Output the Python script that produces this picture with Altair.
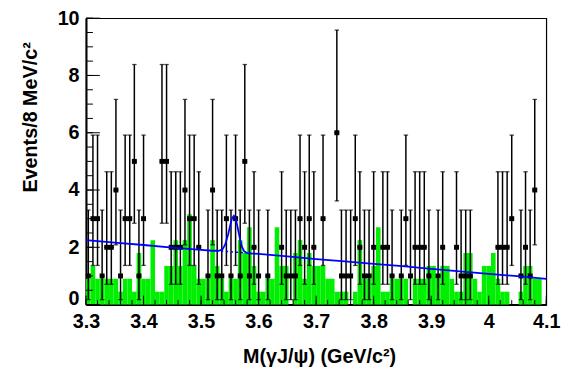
import altair as alt
import pandas as pd

X_MIN, X_MAX = 3.3, 4.1
BIN_W = 0.008

# observed events per 8 MeV bin (100 bins from 3.3 to 4.1)
counts = [1, 3, 3, 1, 2, 2, 4, 1, 3, 3,
          5, 1, 3, 0, 0, 0, 5, 5, 2, 2,
          2, 4, 3, 3, 2, 0, 1, 4, 1, 1,
          3, 1, 3, 1, 5, 1, 2, 1, 0, 1,
          0, 0, 2, 1, 1, 1, 3, 2, 3, 2,
          0, 3, 0, 0, 6, 1, 1, 1, 3, 2,
          1, 1, 2, 0, 2, 2, 1, 0, 1, 3,
          1, 2, 2, 2, 1, 0, 1, 2, 0, 0,
          2, 1, 1, 1, 0, 0, 0, 0, 0, 2,
          2, 2, 3, 0, 1, 2, 1, 4, 0, 0]

# green (sideband / background) histogram
green = [0.9, 1.35, 0.9, 0.9, 0.9, 0.9, 0.9, 0.45, 0.9, 0.9,
         0.45, 1.8, 0.9, 0.9, 2.25, 0.45, 0.45, 1.35, 1.35, 2.25,
         1.35, 2.25, 3.15, 1.35, 0.9, 0.9, 0.9, 2.25, 1.35, 0.9,
         0.45, 0.9, 0.9, 2.25, 1.8, 2.7, 1.35, 0.45, 0.45, 0.9,
         0.9, 2.7, 1.35, 1.35, 0.0, 1.8, 2.25, 0.9, 1.8, 1.35,
         1.35, 1.35, 0.9, 0.9, 0.45, 0.45, 0.45, 0.0, 0.45, 2.25,
         0.9, 0.9, 1.35, 2.7, 0.45, 0.45, 0.9, 0.9, 0.9, 0.9,
         0.0, 0.9, 0.9, 0.9, 1.35, 1.35, 0.9, 1.35, 1.35, 0.9,
         0.45, 0.45, 1.8, 1.8, 0.9, 0.45, 1.35, 1.35, 1.8, 0.9,
         0.45, 0.45, 0.0, 0.0, 0.45, 1.35, 1.35, 0.9, 0.9, 0.0]

# 68% CL Poisson (Garwood) intervals for the counts that occur
poisson_lo = {1: 0.173, 2: 0.708, 3: 1.367, 4: 2.086, 5: 2.840, 6: 3.620}
poisson_hi = {1: 3.300, 2: 4.638, 3: 5.918, 4: 7.163, 5: 8.382, 6: 9.584}

# fitted curve (signal + background)
fit_x = [3.30, 3.35, 3.40, 3.45, 3.50, 3.52, 3.53, 3.537, 3.542, 3.547, 3.551,
         3.554, 3.557, 3.560, 3.563, 3.567, 3.571, 3.575, 3.58, 3.59, 3.60,
         3.65, 3.70, 3.75, 3.80, 3.85, 3.90, 3.95, 4.00, 4.05, 4.10]
fit_y = [2.25, 2.16, 2.08, 1.99, 1.91, 1.88, 1.88, 1.92, 2.10, 2.45, 2.80,
         3.02, 3.10, 3.02, 2.75, 2.35, 2.02, 1.86, 1.80, 1.78, 1.77,
         1.68, 1.59, 1.51, 1.42, 1.34, 1.25, 1.16, 1.07, 0.99, 0.90]

# background-only continuation under the peak (dotted)
bkg_x = [3.535, 3.58]
bkg_y = [1.87, 1.80]

x_major = [3.3, 3.4, 3.5, 3.6, 3.7, 3.8, 3.9, 4.0, 4.1]
y_major = [0, 2, 4, 6, 8, 10]

W, H = 466, 290

rows = []
for i, (n, g) in enumerate(zip(counts, green)):
    lo = X_MIN + i * BIN_W
    rows.append({"lo": lo, "hi": lo + BIN_W, "mid": lo + BIN_W / 2, "n": n, "g": g,
                 "elo": poisson_lo.get(n, 0.0), "ehi": poisson_hi.get(n, 0.0)})
df = pd.DataFrame(rows)
pts = df[df["n"] > 0]

xs = alt.Scale(domain=[X_MIN, X_MAX], nice=False, zero=False)
ys = alt.Scale(domain=[0, 10], nice=False)

xax = alt.Axis(values=x_major, format=".1~f", ticks=False, grid=False, labelFlush=False,
               title="M(γJ/ψ) (GeV/c²)", labelPadding=7, titleY=59,
               titleBaseline="alphabetic", titleX=236)
yax = alt.Axis(values=y_major, ticks=False, grid=False, title="Events/8 MeV/c²",
               labelPadding=7, labelFlush=False,
               labelBaseline={"condition": {"test": "datum.value == 0", "value": "alphabetic"},
                              "value": "middle"},
               titleX=-56, titleY=100, titleAlign="center", titleBaseline="middle")

base = alt.Chart(df)

bars = base.mark_rect(color="#00ee00").encode(
    x=alt.X("lo:Q", scale=xs, axis=xax), x2="hi:Q",
    y=alt.Y("g:Q", scale=ys, axis=yax), y2=alt.datum(0))

pbase = alt.Chart(pts)
err = pbase.mark_rule(color="black", strokeWidth=1.5).encode(
    x=alt.X("mid:Q", scale=xs), y=alt.Y("elo:Q", scale=ys), y2="ehi:Q")
hbar = pbase.mark_rule(color="black", strokeWidth=1.5).encode(
    x=alt.X("lo:Q", scale=xs), x2="hi:Q", y=alt.Y("n:Q", scale=ys))
cap_hi = pbase.mark_tick(color="black", orient="horizontal", size=4.5, thickness=1.3).encode(
    x=alt.X("mid:Q", scale=xs), y=alt.Y("ehi:Q", scale=ys))
cap_lo = pbase.mark_tick(color="black", orient="horizontal", size=4.5, thickness=1.3).encode(
    x=alt.X("mid:Q", scale=xs), y=alt.Y("elo:Q", scale=ys))
marker = pbase.mark_square(color="black", size=25, opacity=1).encode(
    x=alt.X("mid:Q", scale=xs), y=alt.Y("n:Q", scale=ys))

fit = alt.Chart(pd.DataFrame({"x": fit_x, "y": fit_y})).mark_line(
    color="#0000ff", strokeWidth=1.8).encode(
    x=alt.X("x:Q", scale=xs), y=alt.Y("y:Q", scale=ys))
bkg = alt.Chart(pd.DataFrame({"x": bkg_x, "y": bkg_y})).mark_line(
    color="#0000ff", strokeWidth=1.5, strokeDash=[2, 3]).encode(
    x=alt.X("x:Q", scale=xs), y=alt.Y("y:Q", scale=ys))

# inward tick marks
x_minor = [round(X_MIN + 0.02 * k, 3) for k in range(41)]
y_minor = [0.5 * k for k in range(21)]
xt_major = alt.Chart(pd.DataFrame({"t": x_major})).mark_rule(color="black", strokeWidth=1).encode(
    x=alt.X("t:Q", scale=xs), y=alt.value(H), y2=alt.value(H - 9))
xt_minor = alt.Chart(pd.DataFrame({"t": x_minor})).mark_rule(color="black", strokeWidth=1).encode(
    x=alt.X("t:Q", scale=xs), y=alt.value(H), y2=alt.value(H - 4.5))
yt_major = alt.Chart(pd.DataFrame({"t": y_major})).mark_rule(color="black", strokeWidth=1).encode(
    y=alt.Y("t:Q", scale=ys), x=alt.value(0), x2=alt.value(14))
yt_minor = alt.Chart(pd.DataFrame({"t": y_minor})).mark_rule(color="black", strokeWidth=1).encode(
    y=alt.Y("t:Q", scale=ys), x=alt.value(0), x2=alt.value(7))

chart = alt.layer(bars, err, hbar, cap_hi, cap_lo, marker, bkg, fit,
                  xt_minor, xt_major, yt_minor, yt_major).properties(
    width=W, height=H,
    autosize=alt.AutoSizeParams(type="none"),
    padding={"left": 79, "top": 8, "right": 20, "bottom": 69},
).configure_view(stroke="black", strokeWidth=1.2).configure_axis(
    domainColor="black", domainWidth=2,
    labelFont="Liberation Sans", labelFontWeight="bold", labelFontSize=20, labelColor="black",
    titleFont="Liberation Sans", titleFontWeight="bold", titleFontSize=20, titleColor="black",
)

chart.save("out.html", embed_options={"renderer": "svg", "actions": False})
